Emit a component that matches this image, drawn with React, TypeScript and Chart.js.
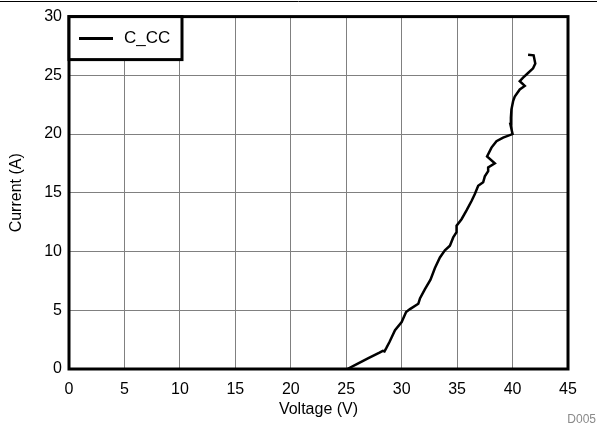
import React, { useEffect, useRef } from "react";
import { Chart, registerables } from "chart.js";

Chart.register(...registerables);

const seriesName = "C_CC";
const voltage = [
  25.1, 26.0, 27.0, 28.0, 28.3, 28.45, 28.6, 28.9, 29.4, 30.0, 30.4, 30.75, 31.5, 31.65, 32.1, 32.6,
  33.0, 33.45, 33.9, 34.35, 34.65, 34.95, 34.95, 35.4, 35.85, 36.3, 36.6, 36.9, 37.35, 37.5,
  37.8, 37.8, 38.4, 37.7, 38.1, 38.55, 39.15, 40.0, 39.8, 39.85, 39.9, 40.05, 40.2, 40.65,
  41.1, 40.65, 40.95, 41.4, 41.85, 42.05, 41.9, 41.4,
];
const current = [
  0, 0.44, 0.93, 1.4, 1.55, 1.5, 1.75, 2.3, 3.3, 4.0, 4.85, 5.1, 5.55, 6.0, 6.8, 7.6,
  8.6, 9.5, 10.1, 10.5, 11.2, 11.65, 12.2, 12.75, 13.5, 14.3, 14.9, 15.6, 15.9, 16.4,
  16.85, 17.15, 17.5, 18.1, 18.85, 19.4, 19.7, 20.0, 20.85, 21.4, 22.1, 22.8, 23.2, 23.8,
  24.1, 24.5, 24.8, 25.2, 25.6, 26.0, 26.7, 26.75,
];
const xTicks = [0, 5, 10, 15, 20, 25, 30, 35, 40, 45];
const yTicks = [0, 5, 10, 15, 20, 25, 30];
const xTitle = "Voltage (V)";
const yTitle = "Current (A)";
const figureId = "D005";

const FONT = "'Liberation Sans', Arial, sans-serif";

const decorPlugin = {
  id: "decor",
  afterDatasetsDraw(chart: any) {
    const { ctx, chartArea: a } = chart;
    ctx.save();
    ctx.strokeStyle = "#000";
    ctx.lineWidth = 3;
    ctx.strokeRect(a.left, a.top, a.right - a.left, a.bottom - a.top);
    ctx.restore();
  },
  afterDraw(chart: any) {
    const { ctx, chartArea: a, width, height } = chart;
    ctx.save();
    ctx.strokeStyle = "#000";
    ctx.lineWidth = 1;
    ctx.beginPath();
    ctx.moveTo(0, 1.5);
    ctx.lineTo(width, 1.5);
    ctx.stroke();
    const bx = a.left, by = a.top, bw = 113, bh = 43;
    ctx.fillStyle = "#fff";
    ctx.fillRect(bx, by, bw, bh);
    ctx.lineWidth = 3;
    ctx.strokeRect(bx, by, bw, bh);
    ctx.lineWidth = 3;
    ctx.beginPath();
    ctx.moveTo(bx + 10, by + 22);
    ctx.lineTo(bx + 44, by + 22);
    ctx.stroke();
    ctx.fillStyle = "#000";
    ctx.font = `17px ${FONT}`;
    ctx.textAlign = "left";
    ctx.textBaseline = "middle";
    ctx.fillText(seriesName, bx + 55, by + 22);
    ctx.fillStyle = "#8a8a8a";
    ctx.font = `12px ${FONT}`;
    ctx.textAlign = "right";
    ctx.textBaseline = "middle";
    ctx.fillText(figureId, width - 1, height - 9);
    ctx.restore();
  },
};

export default function App() {
  const ref = useRef<HTMLCanvasElement>(null);
  useEffect(() => {
    if (!ref.current) return;
    const chart = new Chart(ref.current, {
      type: "line",
      data: {
        datasets: [
          {
            label: seriesName,
            data: voltage.map((v, i) => ({ x: v, y: current[i] })),
            borderColor: "#000",
            borderWidth: 2.5,
            borderJoinStyle: "miter",
            pointRadius: 0,
            tension: 0,
            fill: false,
          },
        ],
      },
      options: {
        animation: false,
        responsive: false,
        devicePixelRatio: 1,
        layout: { padding: { left: 0, top: 15, right: 29, bottom: 0 } },
        plugins: { legend: { display: false }, tooltip: { enabled: false } },
        scales: {
          x: {
            type: "linear",
            min: 0,
            max: 45,
            afterFit: (s: any) => { s.height = 60; },
            afterBuildTicks: (s: any) => { s.ticks = xTicks.map((v) => ({ value: v })); },
            grid: { color: "#808080", lineWidth: 1, drawTicks: false },
            border: { display: false },
            ticks: { padding: 11, color: "#000", font: { family: FONT, size: 16 } },
            title: {
              display: true,
              text: xTitle,
              color: "#000",
              font: { family: FONT, size: 16 },
              padding: { top: 0, bottom: 10 },
            },
          },
          y: {
            type: "linear",
            min: 0,
            max: 30,
            afterFit: (s: any) => { s.width = 69; },
            afterBuildTicks: (s: any) => { s.ticks = yTicks.map((v) => ({ value: v })); },
            grid: { color: "#808080", lineWidth: 1, drawTicks: false },
            border: { display: false },
            ticks: { padding: 7, color: "#000", font: { family: FONT, size: 16 } },
            title: {
              display: true,
              text: yTitle,
              color: "#000",
              font: { family: FONT, size: 16 },
              padding: { top: 7, bottom: 0 },
            },
          },
        },
      },
      plugins: [decorPlugin],
    });
    return () => chart.destroy();
  }, []);
  return (
    <div style={{ position: "absolute", left: 0, top: 0, width: 597, height: 429, background: "#fff" }}>
      <canvas ref={ref} width={597} height={429} style={{ display: "block" }} />
    </div>
  );
}
